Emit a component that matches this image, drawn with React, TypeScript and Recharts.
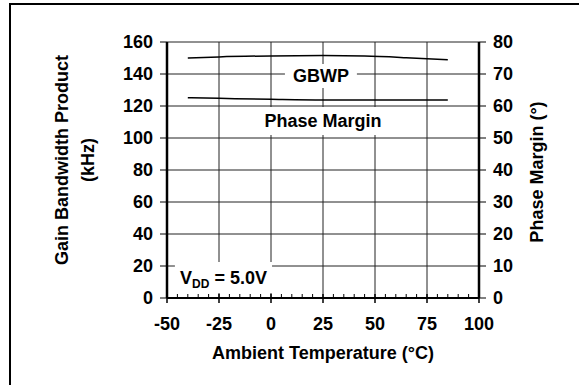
import {
  ComposedChart,
  Line,
  XAxis,
  YAxis,
  CartesianGrid,
  ReferenceArea,
  Label,
} from 'recharts'

// ambient temperature (°C)
const temps = [-40, -25, 0, 25, 45, 65, 85]
// gain bandwidth product (kHz), left axis
const gbwp = [150, 150.7, 151.3, 151.5, 151.2, 150.2, 148.9]
// phase margin (°), right axis
const phaseMargin = [62.6, 62.4, 62.1, 61.9, 61.9, 61.9, 61.9]

const xTicks = [-50, -45, -40, -35, -30, -25, -20, -15, -10, -5, 0, 5, 10, 15, 20, 25, 30, 35, 40, 45, 50, 55, 60, 65, 70, 75, 80, 85, 90, 95, 100]
const xMajor = [-50, -25, 0, 25, 50, 75, 100]
const leftTicks = [0, 20, 40, 60, 80, 100, 120, 140, 160]
const rightTicks = [0, 10, 20, 30, 40, 50, 60, 70, 80]

const chartData = temps.map((t, i) => ({ t, gbwp: gbwp[i], pm: phaseMargin[i] }))

const FONT = '"Liberation Sans", Arial, sans-serif'
const tickStyle = { fill: '#000', fontSize: 18, fontWeight: 700, fontFamily: FONT }

function XTick(props: any) {
  const { x, y, payload } = props
  const major = xMajor.includes(payload.value)
  return (
    <g>
      <line x1={x} x2={x} y1={y - 4} y2={major ? y + 5 : y} stroke="#000" strokeWidth={major ? 1.5 : 1} />
      {major && (
        <text x={x} y={y + 26} dy="0.36em" textAnchor="middle" {...tickStyle}>
          {payload.value}
        </text>
      )}
    </g>
  )
}

const boxLabel = (text: string) => (props: any) => {
  const { x, y, width, height } = props.viewBox
  return (
    <text x={x + width / 2} y={y + height / 2} dy="0.36em" textAnchor="middle" {...tickStyle}>
      {text}
    </text>
  )
}

function VddLabel(props: any) {
  const { x, y, width, height } = props.viewBox
  return (
    <text x={x + width / 2} y={y + height / 2} dy="0.36em" textAnchor="middle" {...tickStyle}>
      V<tspan fontSize={12} dy={4}>DD</tspan>
      <tspan dy={-4}> = 5.0V</tspan>
    </text>
  )
}

function XTitle(props: any) {
  const { x, y, width } = props.viewBox
  return (
    <text x={x + width / 2} y={y + 55} dy="0.36em" textAnchor="middle" {...tickStyle}>
      Ambient Temperature (°C)
    </text>
  )
}

function LeftTitle(props: any) {
  const { y, height } = props.viewBox
  const cy = y + height / 2 - 10
  return (
    <g>
      <text x={62} y={cy} dy="0.36em" textAnchor="middle" transform={`rotate(-90 62 ${cy})`} {...tickStyle}>
        Gain Bandwidth Product
      </text>
      <text x={88} y={cy} dy="0.36em" textAnchor="middle" transform={`rotate(-90 88 ${cy})`} {...tickStyle}>
        (kHz)
      </text>
    </g>
  )
}

function RightTitle(props: any) {
  const { x, y, height } = props.viewBox
  const cx = x + 58
  const cy = y + height / 2 + 2
  return (
    <text x={cx} y={cy} dy="0.36em" textAnchor="middle" transform={`rotate(-90 ${cx} ${cy})`} {...tickStyle}>
      Phase Margin (°)
    </text>
  )
}

export default function App() {
  return (
    <div style={{ position: 'absolute', left: 0, top: 0, width: 579, height: 385, background: '#fff' }}>
      <div
        style={{
          position: 'absolute',
          left: 9,
          top: 3,
          width: 570,
          height: 382,
          boxSizing: 'border-box',
          borderTop: '2px solid #000',
          borderLeft: '2px solid #000',
        }}
      />
      <div style={{ position: 'absolute', left: 0, top: 0 }}>
        <ComposedChart width={579} height={385} data={chartData} margin={{ top: 42, right: 0, left: 0, bottom: 27 }}>
          <CartesianGrid
            yAxisId="left"
            stroke="#222"
            strokeWidth={1}
            verticalValues={[-25, 0, 25, 50, 75]}
            horizontalValues={leftTicks}
          />
          <XAxis
            dataKey="t"
            type="number"
            domain={[-50, 100]}
            ticks={xTicks}
            interval={0}
            height={60}
            tickSize={0}
            tickMargin={0}
            tickLine={false}
            axisLine={{ stroke: '#000', strokeWidth: 2 }}
            tick={XTick}
          >
            <Label content={XTitle} />
          </XAxis>
          <YAxis
            yAxisId="left"
            domain={[0, 160]}
            ticks={leftTicks}
            interval={0}
            width={167}
            tickSize={7}
            tickMargin={7}
            tickLine={{ stroke: '#000' }}
            axisLine={{ stroke: '#000', strokeWidth: 2.5 }}
            tick={tickStyle}
          >
            <Label content={LeftTitle} />
          </YAxis>
          <YAxis
            yAxisId="right"
            orientation="right"
            domain={[0, 80]}
            ticks={rightTicks}
            interval={0}
            width={100}
            tickSize={7}
            tickMargin={7}
            tickLine={{ stroke: '#000' }}
            axisLine={{ stroke: '#000', strokeWidth: 2.5 }}
            tick={tickStyle}
          >
            <Label content={RightTitle} />
          </YAxis>
          <ReferenceArea yAxisId="left" x1={6.7} x2={41.3} y1={131.3} y2={146.3} fill="#fff" fillOpacity={1} stroke="none" label={boxLabel('GBWP')} />
          <ReferenceArea yAxisId="left" x1={-6.3} x2={56.3} y1={101.9} y2={119.4} fill="#fff" fillOpacity={1} stroke="none" label={boxLabel('Phase Margin')} />
          <ReferenceArea yAxisId="left" x1={-46.2} x2={0.5} y1={3.1} y2={22.5} fill="#fff" fillOpacity={1} stroke="none" label={VddLabel} />
          <Line yAxisId="left" type="monotone" dataKey="gbwp" stroke="#000" strokeWidth={1.5} dot={false} isAnimationActive={false} />
          <Line yAxisId="right" type="monotone" dataKey="pm" stroke="#000" strokeWidth={1.5} dot={false} isAnimationActive={false} />
        </ComposedChart>
      </div>
    </div>
  )
}
